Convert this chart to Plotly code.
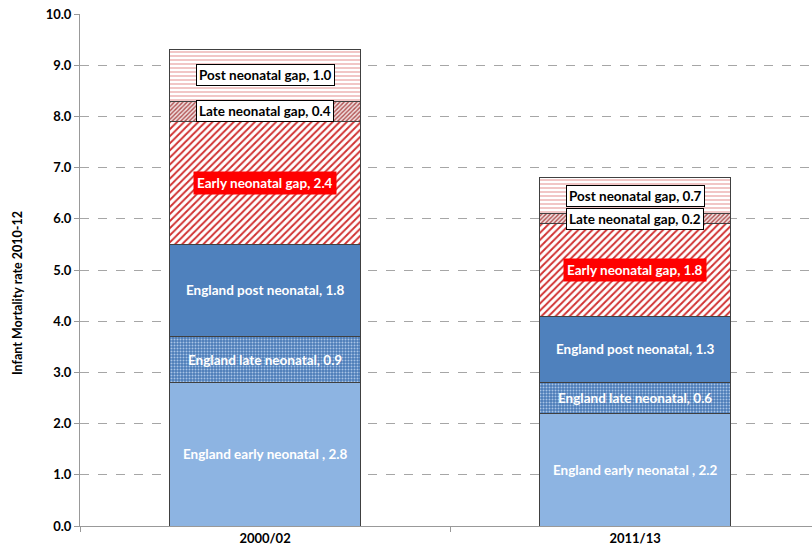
import plotly.graph_objects as go

# Periods on the x axis
periods = ["2000/02", "2011/13"]

# Infant mortality components (per 1,000 live births)
england_early = [2.8, 2.2]
england_late = [0.9, 0.6]
england_post = [1.8, 1.3]
gap_early = [2.4, 1.8]
gap_late = [0.4, 0.2]
gap_post = [1.0, 0.7]

series = [
    ("England early neonatal ", england_early),
    ("England late neonatal", england_late),
    ("England post neonatal", england_post),
    ("Early neonatal gap", gap_early),
    ("Late neonatal gap", gap_late),
    ("Post neonatal gap", gap_post),
]

styles = [
    dict(color="#8DB4E2"),
    dict(color="#4F81BD", pattern=dict(shape=".", fgcolor="#A9C4E6", bgcolor="#4A7BB8",
                                       size=3, solidity=0.35, fillmode="replace")),
    dict(color="#4F81BD"),
    dict(color="white", pattern=dict(shape="/", fgcolor="#D03030", bgcolor="white",
                                     size=5, solidity=0.38, fillmode="replace")),
    dict(color="white", pattern=dict(shape="/", fgcolor="#B05050", bgcolor="#F0E0E0",
                                     size=3, solidity=0.45, fillmode="replace")),
    dict(color="white", pattern=dict(shape="-", fgcolor="#E8A0A0", bgcolor="white",
                                     size=4, solidity=0.3, fillmode="replace")),
]

FONT = "Lato"
LABEL_SIZE = 13.5
fig = go.Figure()
for (name, vals), st in zip(series, styles):
    marker = dict(line=dict(color="#404040", width=1))
    marker.update(st)
    fig.add_trace(go.Bar(x=periods, y=vals, name=name, marker=marker,
                         width=0.516, hoverinfo="skip"))

# Segment labels, placed at the middle of each stacked segment
annotations = []
for i, p in enumerate(periods):
    base = 0.0
    for k, (name, vals) in enumerate(series):
        v = vals[i]
        mid = base + v / 2
        base += v
        label = f"<b>{name}, {v:.1f}</b>"
        if k < 3:
            annotations.append(dict(x=p, y=mid, text=label, showarrow=False,
                                    font=dict(family=FONT, size=LABEL_SIZE, color="white")))
        elif k == 3:
            annotations.append(dict(x=p, y=mid, text=label, showarrow=False,
                                    font=dict(family=FONT, size=LABEL_SIZE, color="white"),
                                    bgcolor="#FF0000", borderpad=3))
        else:
            annotations.append(dict(x=p, y=mid, text=label, showarrow=False,
                                    font=dict(family=FONT, size=LABEL_SIZE, color="black"),
                                    bgcolor="white", bordercolor="black", borderwidth=1,
                                    borderpad=2))

# Vertical axis title
annotations.append(dict(xref="paper", yref="paper", x=-80 / 732 + 17 / 732, y=0.455,
                        xanchor="center", yanchor="middle", textangle=-90,
                        text="<b>Infant Mortality rate 2010-12</b>", showarrow=False,
                        font=dict(family=FONT, size=12.5, color="black")))

fig.update_layout(
    barmode="stack",
    width=812, height=554,
    margin=dict(l=80, r=0, t=14, b=28),
    paper_bgcolor="white", plot_bgcolor="white",
    showlegend=False,
    annotations=annotations,
    font=dict(family=FONT, color="black"),
)
fig.update_xaxes(
    range=[-0.5, 1.478], showline=True, linecolor="#999999", linewidth=1,
    ticks="outside", tickson="boundaries", ticklen=5, tickcolor="#999999",
    tickfont=dict(family=FONT, size=13, color="black"),
    tickprefix="<b>", ticksuffix="</b>", showgrid=False,
)
fig.update_yaxes(
    range=[0, 10], dtick=1, tickformat=".1f", showline=True, linecolor="#999999",
    linewidth=1, ticks="outside", ticklen=5, tickcolor="#999999",
    tickfont=dict(family=FONT, size=13, color="black"),
    tickprefix="<b>", ticksuffix="</b>",
    showgrid=True, gridcolor="#A6A6A6", griddash="dash", gridwidth=1, zeroline=False,
)

fig.write_html("out.html")
